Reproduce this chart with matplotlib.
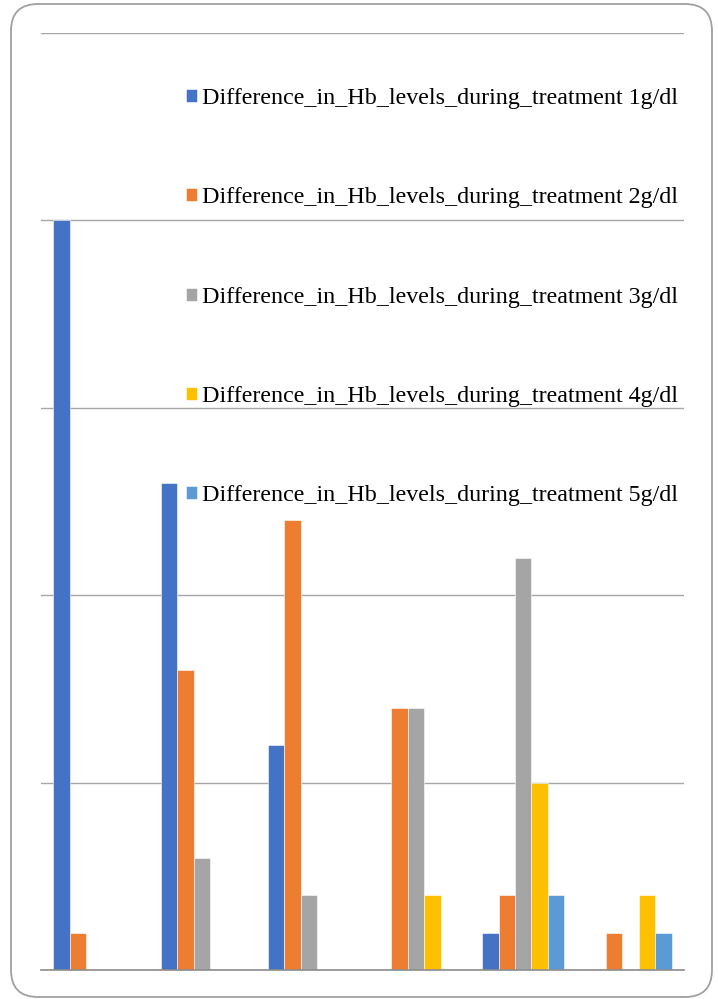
import numpy as np
import matplotlib.pyplot as plt
from matplotlib.patches import FancyBboxPatch

# Categories (not labelled on the axis) and counts per Hb difference
categories = ['1', '2', '3', '4', '5', '6']
series_names = [
    'Difference_in_Hb_levels_during_treatment 1g/dl',
    'Difference_in_Hb_levels_during_treatment 2g/dl',
    'Difference_in_Hb_levels_during_treatment 3g/dl',
    'Difference_in_Hb_levels_during_treatment 4g/dl',
    'Difference_in_Hb_levels_during_treatment 5g/dl',
]
diff_1g = [20, 13, 6, 0, 1, 0]
diff_2g = [1, 8, 12, 7, 2, 1]
diff_3g = [0, 3, 2, 7, 11, 0]
diff_4g = [0, 0, 0, 2, 5, 2]
diff_5g = [0, 0, 0, 0, 2, 1]
colors = ['#4472C4', '#ED7D31', '#A5A5A5', '#FFC000', '#5B9BD5']

all_series = [diff_1g, diff_2g, diff_3g, diff_4g, diff_5g]

plt.rcParams['font.family'] = ['Liberation Serif', 'DejaVu Serif']

fig = plt.figure(figsize=(7.18, 9.99), dpi=100)
ax = fig.add_axes([41 / 718, 1 - 970 / 999, 643 / 718, 937 / 999])

x = np.arange(len(categories))
w = 1 / 6.5
for i, (vals, name, c) in enumerate(zip(all_series, series_names, colors)):
    ax.bar(x + (i - 2) * w, vals, width=w, color=c, label=name,
           edgecolor='white', linewidth=0.4)

ax.set_xlim(-0.5, len(categories) - 0.5)
ax.set_ylim(0, 25)
ax.set_yticks(np.arange(0, 26, 5))
ax.yaxis.grid(True, color='#a6a6a6', linewidth=1)
ax.set_axisbelow(True)
ax.tick_params(left=False, bottom=False, labelleft=False, labelbottom=False)
for s in ['left', 'right', 'top']:
    ax.spines[s].set_visible(False)
ax.spines['bottom'].set_color('#8c8c8c')
ax.spines['bottom'].set_linewidth(1.2)

ax.legend(loc='upper left', bbox_to_anchor=(186 / 718, 1 - 88 / 999),
          bbox_transform=fig.transFigure, frameon=False, fontsize=17.3,
          handlelength=0.46, handleheight=0.46, handletextpad=0.22,
          labelspacing=3.26, borderaxespad=0, borderpad=0)

# rounded outer frame
frame = FancyBboxPatch((0.11, 0.02), 7.01, 9.93,
                       boxstyle='round,pad=0,rounding_size=0.27',
                       transform=fig.dpi_scale_trans, facecolor='none',
                       edgecolor='#a0a0a0', linewidth=1.3, zorder=10)
fig.patches.append(frame)

fig.savefig('out.png', dpi=100)
